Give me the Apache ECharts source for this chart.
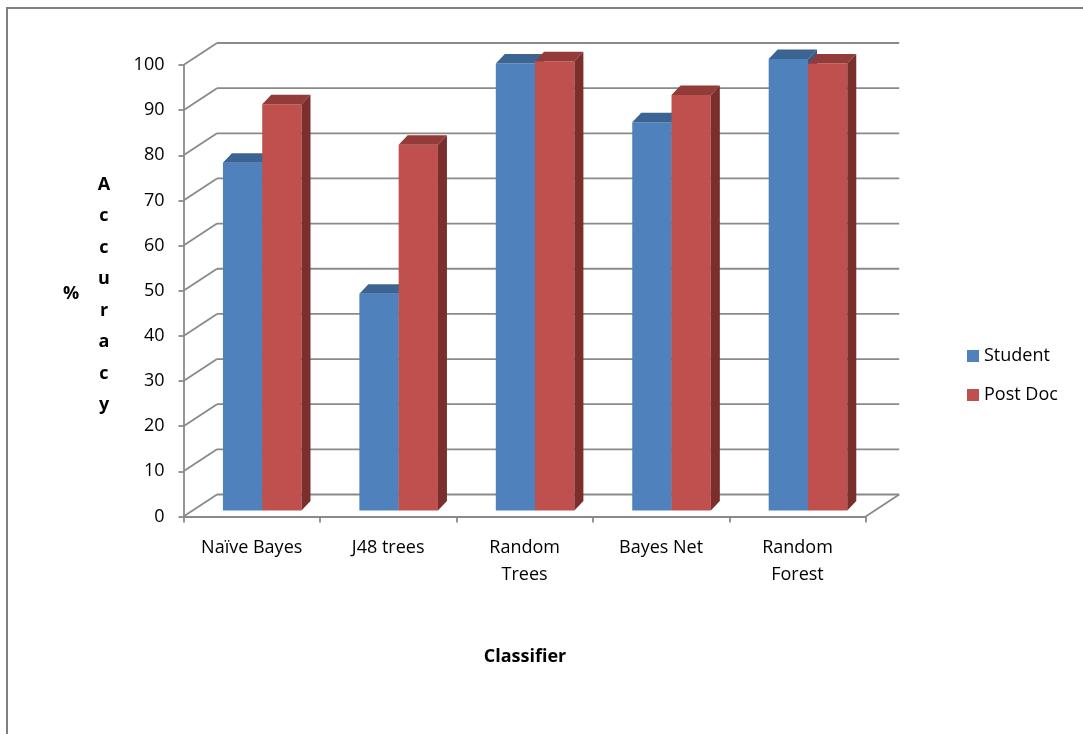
<!DOCTYPE html>
<html>
<head>
<meta charset="utf-8">
<script src="https://cdn.jsdelivr.net/npm/echarts@6/dist/echarts.min.js"></script>
<style>
  html, body { margin: 0; padding: 0; background: #ffffff; }
  #chart { width: 1083px; height: 734px; }
</style>
</head>
<body>
<div id="chart"></div>
<script>
// Classifier accuracy (%) for the two user groups
const categories = ['Naïve Bayes', 'J48 trees', 'Random\nTrees', 'Bayes Net', 'Random\nForest'];
const studentAccuracy = [77, 48, 99, 86, 100];
const postDocAccuracy = [90, 81, 99.5, 92, 99];
const yTicks = [0, 10, 20, 30, 40, 50, 60, 70, 80, 90, 100];

const FONT = "'Open Sans', 'Noto Sans', sans-serif";
const GRID_COLOR = '#8a8a8a';

// pseudo-3D geometry: back wall offset and column depth (pixels)
const WALL_DX = 33.5, WALL_DY = -22;
const BAR_SHIFT = 10.5, BAR_LIFT = 6;
const BAR_DX = 9, BAR_DY = -9.5;
const BAR_FRACTION = 0.288;

const palette = {
  student: { front: '#4F81BD', top: '#3B6492', side: '#375C88' },
  postDoc: { front: '#C0504D', top: '#923B39', side: '#7B2F2D' }
};

// back wall gridlines, side-wall diagonals and floor edge
function renderFrame(params, api) {
  const v = api.value(1);
  const band = api.size([1, 0])[0];
  const p = api.coord([0, v]);
  const last = api.coord([categories.length - 1, v]);
  const xl = p[0] - band / 2;
  const xr = last[0] + band / 2;
  const y = p[1];
  const lineStyle = { stroke: GRID_COLOR, lineWidth: 1.8 };
  const children = [
    { type: 'line', shape: { x1: xl, y1: y, x2: xl + WALL_DX, y2: y + WALL_DY }, style: lineStyle },
    { type: 'line', shape: { x1: xl + WALL_DX, y1: y + WALL_DY, x2: xr + WALL_DX, y2: y + WALL_DY }, style: lineStyle }
  ];
  if (v === 0) {
    children.push({ type: 'line', shape: { x1: xr, y1: y, x2: xr + WALL_DX, y2: y + WALL_DY }, style: lineStyle });
  }
  return { type: 'group', children: children };
}

// one column: front face, right side face, top face
function columnRenderer(colors, leftOfCenter) {
  return function (params, api) {
    const i = api.value(0);
    const v = api.value(1);
    const base = api.coord([i, 0]);
    const head = api.coord([i, v]);
    const band = api.size([1, 0])[0];
    const bw = band * BAR_FRACTION;
    const cx = base[0] + BAR_SHIFT;
    const x0 = leftOfCenter ? cx - bw : cx;
    const x1 = x0 + bw;
    const yb = base[1] - BAR_LIFT;
    const yt = head[1] - BAR_LIFT;
    return {
      type: 'group',
      children: [
        { type: 'rect', shape: { x: x0, y: yt, width: bw, height: yb - yt }, style: { fill: colors.front } },
        { type: 'polygon', shape: { points: [[x1, yb], [x1 + BAR_DX, yb + BAR_DY], [x1 + BAR_DX, yt + BAR_DY], [x1, yt]] }, style: { fill: colors.side } },
        { type: 'polygon', shape: { points: [[x0, yt], [x1, yt], [x1 + BAR_DX, yt + BAR_DY], [x0 + BAR_DX, yt + BAR_DY]] }, style: { fill: colors.top } }
      ]
    };
  };
}

const chart = echarts.init(document.getElementById('chart'), null, { renderer: 'canvas' });

chart.setOption({
  backgroundColor: '#ffffff',
  animation: false,
  textStyle: { fontFamily: FONT },
  grid: { left: 183.5, right: 217.3, top: 65, bottom: 217.5 },
  legend: {
    orient: 'vertical',
    left: 962,
    top: 342,
    icon: 'rect',
    itemWidth: 12,
    itemHeight: 12,
    itemGap: 21,
    textStyle: { fontFamily: FONT, fontSize: 18, color: '#000' },
    data: ['Student', 'Post Doc']
  },
  xAxis: {
    type: 'category',
    data: categories,
    axisLine: { lineStyle: { color: GRID_COLOR, width: 1.8 } },
    axisTick: { show: true, length: 6, lineStyle: { color: GRID_COLOR, width: 1.8 } },
    axisLabel: { color: '#000', fontSize: 18, fontFamily: FONT, margin: 18, lineHeight: 27, interval: 0 },
    splitLine: { show: false }
  },
  yAxis: {
    type: 'value',
    min: 0,
    max: 100,
    interval: 10,
    axisLine: { show: true, lineStyle: { color: GRID_COLOR, width: 1.8 } },
    axisTick: { show: true, length: 5, lineStyle: { color: GRID_COLOR, width: 1.8 } },
    axisLabel: { color: '#000', fontSize: 18, fontFamily: FONT, margin: 19 },
    splitLine: { show: false }
  },
  graphic: [
    // outer chart frame
    { type: 'polyline', z: 100, shape: { points: [[7, 734], [7, 8], [1083, 8]] }, style: { stroke: '#808080', lineWidth: 2, fill: null } },
    { type: 'text', x: 71, y: 294, style: { text: '%', font: "bold 18px " + FONT, fill: '#000', align: 'center', verticalAlign: 'middle' } },
    { type: 'text', x: 104, y: 295, style: { text: 'A\nc\nc\nu\nr\na\nc\ny', font: "bold 18px " + FONT, lineHeight: 31.5, fill: '#000', align: 'center', verticalAlign: 'middle' } },
    { type: 'text', x: 525, y: 657, style: { text: 'Classifier', font: "bold 18px " + FONT, fill: '#000', align: 'center', verticalAlign: 'middle' } }
  ],
  series: [
    {
      name: 'frame',
      type: 'custom',
      z: 1,
      silent: true,
      clip: false,
      renderItem: renderFrame,
      data: yTicks.map(function (v) { return [0, v]; })
    },
    {
      name: 'Student',
      type: 'custom',
      z: 2,
      clip: false,
      itemStyle: { color: palette.student.front },
      renderItem: columnRenderer(palette.student, true),
      data: studentAccuracy.map(function (v, i) { return [i, v]; })
    },
    {
      name: 'Post Doc',
      type: 'custom',
      z: 3,
      clip: false,
      itemStyle: { color: palette.postDoc.front },
      renderItem: columnRenderer(palette.postDoc, false),
      data: postDocAccuracy.map(function (v, i) { return [i, v]; })
    }
  ]
});
</script>
</body>
</html>
